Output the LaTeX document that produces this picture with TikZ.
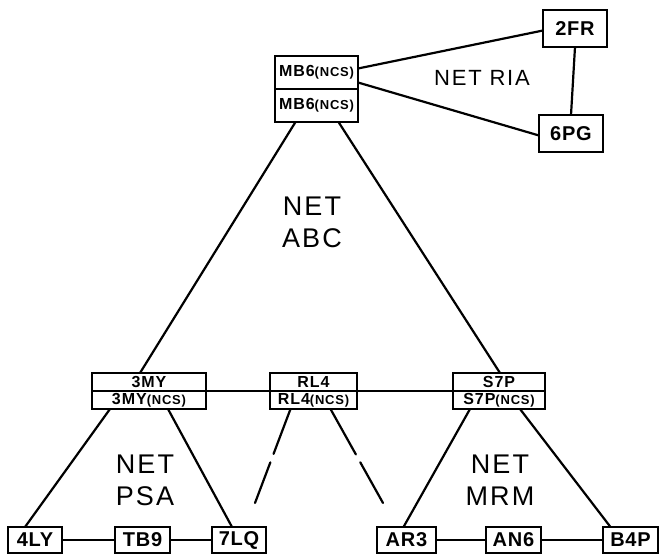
\documentclass[tikz,border=0pt]{standalone}
\usepackage{fontspec}
\setmainfont{Liberation Sans}
\usetikzlibrary{calc}
\tikzset{
  box/.style={draw, line width=2.2pt, inner sep=0pt, outer sep=0pt, font=\bfseries\addfontfeature{LetterSpace=4}\fontsize{20}{20}\selectfont},
  small/.style={font=\bfseries\addfontfeature{LetterSpace=6}\fontsize{16}{16}\selectfont},
  conn/.style={line width=2.2pt},
  netlbl/.style={align=center, font=\addfontfeature{LetterSpace=8}\fontsize{27}{32}\selectfont},
}
\newcommand{\ncs}{{\fontsize{13}{13}\selectfont(NCS)}}
\begin{document}
\begin{tikzpicture}[x=1pt,y=-1pt]
\useasboundingbox (0,0) rectangle (660,556);
% top
\node[box,small,minimum width=83pt,minimum height=33pt] (mbt) at (316.5,72.5) {MB6\ncs};
\node[box,small,minimum width=83pt,minimum height=33pt] (mbb) at (316.5,105.5) {MB6\ncs};
\node[box,minimum width=64pt,minimum height=37pt] (fr) at (575,28.5) {2FR};
\node[box,minimum width=64pt,minimum height=37pt] (pg) at (571,133.5) {6PG};
\node[netlbl,font=\addfontfeature{LetterSpace=8}\fontsize{22}{26}\selectfont] (ria) at (482,78) {NET RIA};
\node[netlbl] (abc) at (312,222) {NET\\ABC};
% middle
\node[box,small,minimum width=114pt,minimum height=18pt] (my1) at (149,382) {3MY};
\node[box,small,minimum width=114pt,minimum height=18pt] (my2) at (149,400) {3MY\ncs};
\node[box,small,minimum width=87pt,minimum height=18pt] (rl1) at (313.5,382) {RL4};
\node[box,small,minimum width=87pt,minimum height=18pt] (rl2) at (313.5,400) {RL4\ncs};
\node[box,small,minimum width=92pt,minimum height=18pt] (s71) at (499,382) {S7P};
\node[box,small,minimum width=92pt,minimum height=18pt] (s72) at (499,400) {S7P\ncs};
\node[netlbl] (psa) at (145,480) {NET\\PSA};
\node[netlbl] (mrm) at (500,480) {NET\\MRM};
% bottom
\node[box,minimum width=54pt,minimum height=26pt] (ly) at (35,540) {4LY};
\node[box,minimum width=55pt,minimum height=26pt] (tb) at (142.5,540) {TB9};
\node[box,minimum width=54pt,minimum height=26pt] (lq) at (239,540) {7LQ};
\node[box,minimum width=59pt,minimum height=26pt] (ar) at (406.5,540) {AR3};
\node[box,minimum width=55pt,minimum height=26pt] (an) at (513.5,540) {AN6};
\node[box,minimum width=55pt,minimum height=26pt] (bp) at (630.5,540) {B4P};
\coordinate (rla) at (255,503);
\coordinate (rlb) at (383,503);
% connectors
\draw[conn] ([yshift=4pt]mbt.east) -- ([yshift=-2pt]fr.west);
\draw[conn] ([yshift=-10pt]mbt.east) -- ([yshift=-2pt]pg.west);
\draw[conn] (fr.south) -- (pg.north);
\draw[conn] ([xshift=-21pt]mbb.south) -- ([xshift=-9pt]my1.north);
\draw[conn] ([xshift=22pt]mbb.south) -- ([xshift=1pt]s71.north);
\draw[conn] (my1.south east) -- (rl1.south west);
\draw[conn] (rl1.south east) -- (s71.south west);
\draw[conn] ([xshift=-39pt]my2.south) -- ([xshift=-10pt]ly.north);
\draw[conn] ([xshift=19pt]my2.south) -- ([xshift=-7pt]lq.north);
\draw[conn,line cap=round,dash pattern=on 48pt off 9pt on 60pt] ([xshift=-23pt]rl2.south) -- (rla);
\draw[conn,line cap=round,dash pattern=on 52pt off 9pt on 60pt] ([xshift=17pt]rl2.south) -- (rlb);
\draw[conn] ([xshift=-29pt]s72.south) -- ([xshift=-3pt]ar.north);
\draw[conn] ([xshift=21pt]s72.south) -- ([xshift=-20pt]bp.north);
\draw[conn] (ly.east) -- (tb.west);
\draw[conn] (tb.east) -- (lq.west);
\draw[conn] (ar.east) -- (an.west);
\draw[conn] (an.east) -- (bp.west);
\end{tikzpicture}
\end{document}
